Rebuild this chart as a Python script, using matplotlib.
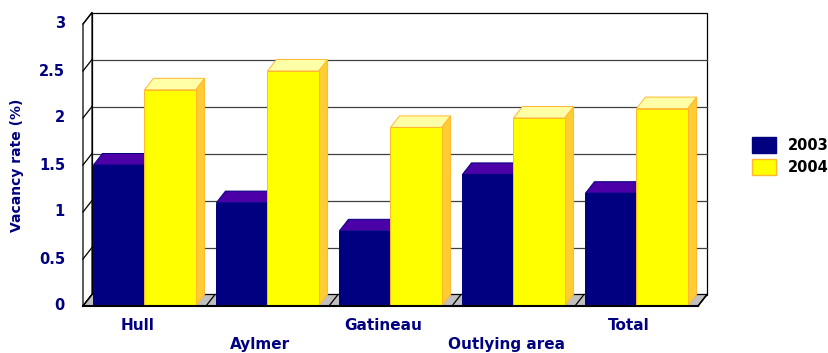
import matplotlib
matplotlib.use("Agg")
import matplotlib.pyplot as plt
from matplotlib.patches import Polygon, Patch

# vacancy rates by area
areas = ["Hull", "Aylmer", "Gatineau", "Outlying area", "Total"]
rate_2003 = [1.5, 1.1, 0.8, 1.4, 1.2]
rate_2004 = [2.3, 2.5, 1.9, 2.0, 2.1]
yticks = [0, 0.5, 1, 1.5, 2, 2.5, 3]
ytick_labels = ["0", "0.5", "1", "1.5", "2", "2.5", "3"]

NAVY = "#000080"
W = 0.415          # bar width in category units
DX = 9 / 123       # depth offset (x, category units)
DY = 11.5 / 94     # depth offset (y, value units)
YMAX = 3

fig = plt.figure(figsize=(8.29, 3.53), dpi=100)
ax = fig.add_axes([0, 0, 1, 1])
ax.set_xlim(-0.5 - 83 / 123, -0.5 + (829 - 83) / 123)
ax.set_ylim(-(353 - 306) / 94, 306 / 94)
ax.axis("off")

n = len(areas)
x_left, x_right = -0.5, n - 0.5

# back wall with gridlines
ax.add_patch(Polygon([(x_left + DX, DY), (x_right + DX, DY),
                      (x_right + DX, YMAX + DY), (x_left + DX, YMAX + DY)],
                     closed=True, facecolor="white", edgecolor="black", lw=0.9, zorder=1))
for v in yticks[1:-1]:
    ax.plot([x_left + DX, x_right + DX], [v + DY, v + DY], color="#404040", lw=0.9, zorder=2)

# left wall
ax.add_patch(Polygon([(x_left, 0), (x_left, YMAX), (x_left + DX, YMAX + DY), (x_left + DX, DY)],
                     closed=True, facecolor="white", edgecolor="black", lw=0.9, zorder=2))
for v in yticks:
    ax.plot([x_left, x_left + DX], [v, v + DY], color="black", lw=0.9, zorder=2)

# floor
ax.add_patch(Polygon([(x_left, 0), (x_right, 0), (x_right + DX, DY), (x_left + DX, DY)],
                     closed=True, facecolor="#C0C0C0", edgecolor="black", lw=0.9, zorder=2))
for k in range(n + 1):
    ax.plot([x_left + k, x_left + k + DX], [0, DY], color="black", lw=0.9, zorder=2)


def bar3d(x0, h, front, top, side, edge):
    ax.add_patch(Polygon([(x0 + W, 0), (x0 + W + DX, DY), (x0 + W + DX, h + DY), (x0 + W, h)],
                         closed=True, facecolor=side, edgecolor=edge, lw=0.7, zorder=3))
    ax.add_patch(Polygon([(x0, h), (x0 + W, h), (x0 + W + DX, h + DY), (x0 + DX, h + DY)],
                         closed=True, facecolor=top, edgecolor=edge, lw=0.7, zorder=3))
    ax.add_patch(Polygon([(x0, 0), (x0 + W, 0), (x0 + W, h), (x0, h)],
                         closed=True, facecolor=front, edgecolor=edge, lw=0.7, zorder=3))


for i in range(n):
    bar3d(i - W, rate_2003[i], NAVY, "#4C00A8", "#000060", NAVY)
    bar3d(i, rate_2004[i], "#FFFF00", "#FFFFA8", "#FFCC33", "#FFB830")

# front axis line
ax.plot([x_left, x_right], [0, 0], color="black", lw=1.5, zorder=4)
ax.plot([x_right, x_right + DX], [0, DY], color="black", lw=0.9, zorder=4)

font = dict(family="DejaVu Sans", weight="bold")

# y tick labels
for v, lab in zip(yticks, ytick_labels):
    ax.text(-0.5 + (65 - 83) / 123, v, lab, ha="right", va="center",
            fontsize=10.5, color=NAVY, **font)

ax.text(-0.5 + (17 - 83) / 123, 1.5, "Vacancy rate (%)", rotation=90,
        ha="center", va="center", fontsize=10, color=NAVY, **font)

# staggered category labels
for i, name in enumerate(areas):
    y = -19 / 94 if i % 2 == 0 else -39 / 94
    ax.text(i - 0.06, y, name, ha="center", va="center",
            fontsize=11, color=NAVY, **font)

handles = [Patch(facecolor=NAVY, edgecolor=NAVY, label="2003"),
           Patch(facecolor="#FFFF00", edgecolor="#FFB830", label="2004")]
leg = ax.legend(handles=handles, loc="upper left",
                bbox_to_anchor=(752 / 829, 1 - 137 / 353), bbox_transform=fig.transFigure,
                frameon=False, borderpad=0, borderaxespad=0,
                handlelength=1.65, handleheight=1.3, labelspacing=0.4, handletextpad=0.8,
                prop=dict(family="DejaVu Sans", weight="bold", size=10.5))

fig.savefig("out.png", dpi=100)
